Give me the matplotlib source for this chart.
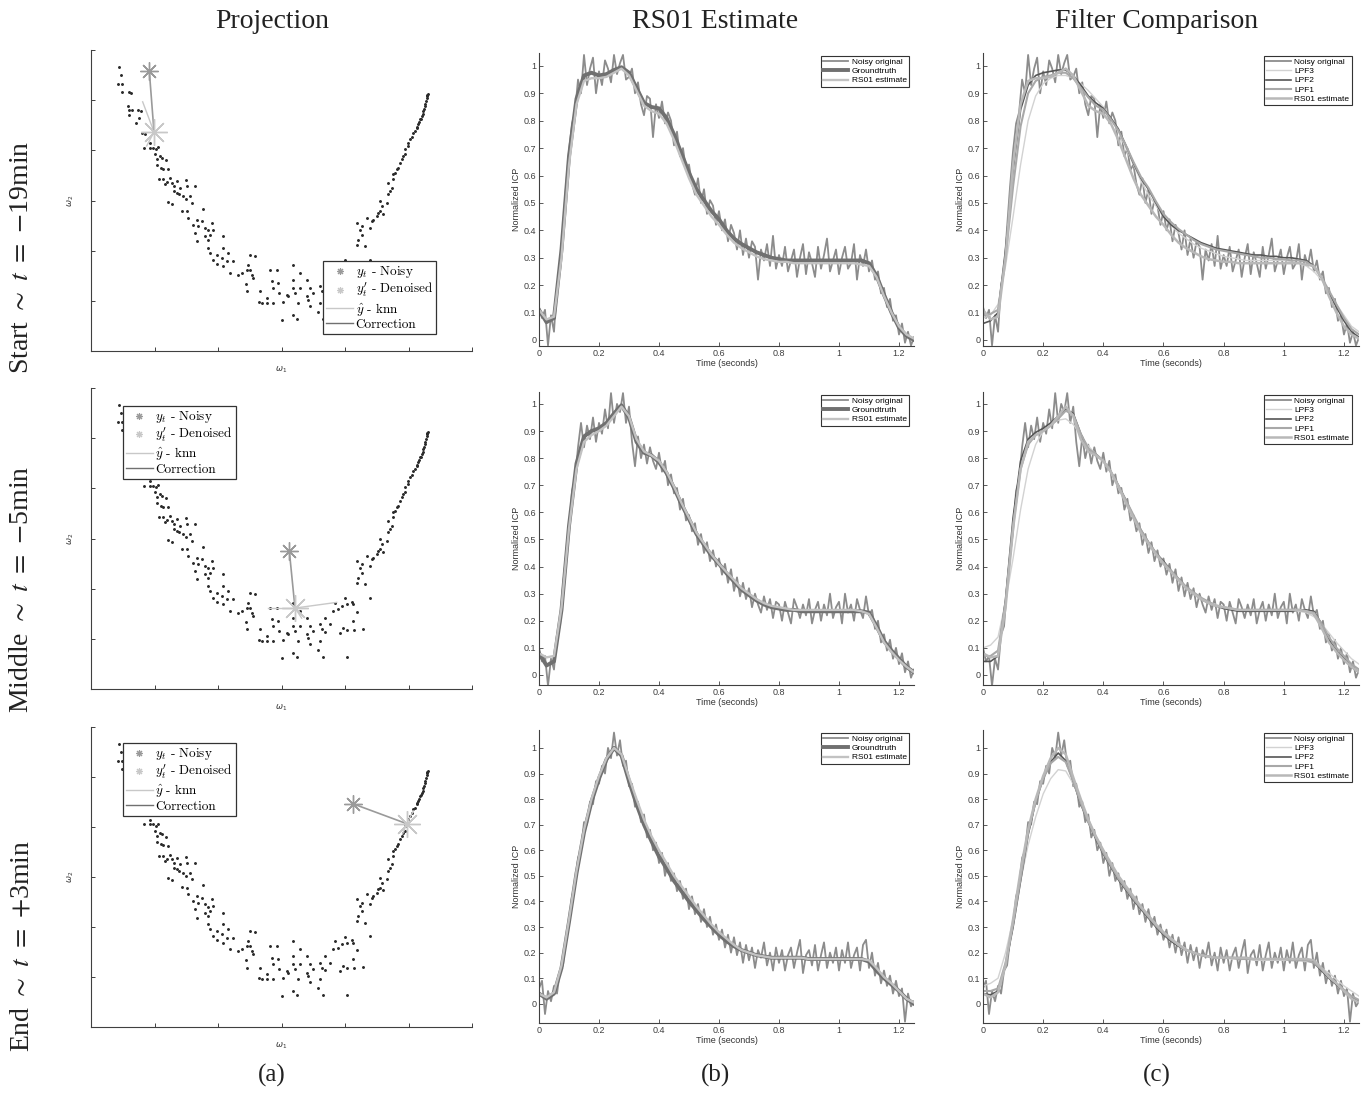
import numpy as np
import matplotlib
matplotlib.use('Agg')
import matplotlib.pyplot as plt
from matplotlib.lines import Line2D
from matplotlib.font_manager import FontProperties

plt.rcParams['font.family'] = ['Liberation Sans', 'DejaVu Sans']

# ---------------- data ----------------
col_titles = ['Projection', 'RS01 Estimate', 'Filter Comparison']
row_labels = [r'Start $\sim$ $t$ $=$ $-$19min', r'Middle $\sim$ $t$ $=$ $-$5min', r'End $\sim$ $t$ $=$ $+$3min']
panel_tags = ['(a)', '(b)', '(c)']

# projection point cloud (arbitrary omega units)
cloud_w1 = [118, 122, 113, 125, 127, 148, 152, 143, 147, 155, 148, 175, 183, 178, 167, 185, 195, 192, 210, 210,
            220, 228, 235, 225, 240, 230, 245, 258, 232, 242, 250, 265, 238, 250, 262, 270, 255, 275, 282, 300,
            290, 318, 320, 345, 283, 290, 298, 310, 318, 330, 265, 275, 305, 335, 368, 322, 325, 350, 365, 395,
            340, 355, 375, 385, 345, 400, 390, 375, 352, 385, 430, 385, 390, 410, 430, 445, 400, 425, 440, 460,
            410, 430, 450, 475, 485, 500, 510, 525, 505, 510, 515, 520, 498, 500, 540, 537, 560, 570, 590, 575,
            595, 580, 597, 545, 560, 580, 610, 620, 625, 640, 640, 660, 645, 605, 640, 660, 680, 690, 680, 690,
            640, 650, 655, 700, 720, 735, 720, 750, 765, 775, 795, 785, 800, 815, 820, 870, 760, 830, 835, 845,
            832, 840, 855, 845, 860, 870, 875, 880, 895, 900, 890, 910, 900, 905, 920, 925, 930, 935, 925, 940,
            945, 955, 960, 965, 975, 975, 985, 990, 1000, 1010, 1015, 1020, 1025, 1030, 1035, 1038, 1040, 985, 970, 950,
            940, 995, 1005, 1012, 1018, 1022, 1028, 1032, 1036, 1040, 1042, 1043, 725, 735, 780, 790, 800, 820, 822, 848,
            800, 730, 715, 685, 832]
cloud_w2 = [850, 826, 798, 798, 773, 773, 771, 733, 721, 721, 705, 721, 718, 698, 683, 651, 648, 608, 621, 608,
            608, 603, 610, 588, 583, 573, 578, 571, 555, 548, 545, 543, 513, 513, 505, 516, 498, 503, 493, 488,
            508, 511, 493, 493, 478, 473, 468, 463, 453, 463, 446, 440, 420, 443, 425, 418, 398, 393, 388, 383,
            378, 373, 368, 361, 353, 363, 348, 343, 328, 333, 343, 308, 293, 288, 308, 293, 273, 278, 268, 268,
            261, 253, 233, 228, 233, 243, 288, 285, 258, 243, 228, 218, 201, 178, 178, 148, 158, 243, 243, 208,
            203, 188, 173, 143, 143, 143, 148, 168, 163, 213, 188, 188, 173, 93, 258, 233, 213, 188, 163, 136,
            108, 95, 143, 173, 193, 213, 143, 193, 258, 238, 271, 248, 253, 261, 253, 273, 233, 318, 333, 348,
            383, 363, 313, 373, 398, 368, 388, 393, 413, 418, 403, 411, 448, 433, 443, 468, 478, 488, 503, 528,
            533, 548, 563, 573, 588, 603, 623, 633, 653, 668, 678, 693, 703, 718, 733, 748, 763, 613, 583, 543,
            513, 641, 658, 671, 685, 695, 708, 723, 738, 755, 765, 768, 178, 170, 168, 183, 176, 203, 176, 180,
            95, 95, 118, 153, 230]

noisy_pt = [(208, 836), (628, 412), (818, 670)]
denoised_pt = [(222, 655), (645, 242), (980, 610)]
knn_pts = [[(188, 745), (200, 613)],
           [(565, 242), (770, 259), (665, 212)],
           [(1000, 648), (968, 580)]]

# signals
t_noisy = np.round(np.arange(126) * 0.01, 2)
t_fine = np.arange(51) * 0.025

noisy = [
    [0.12, 0.08, 0.11, -0.02, 0.09, 0.03, 0.20, 0.25, 0.41, 0.56,
     0.69, 0.79, 0.83, 0.95, 0.90, 1.04, 0.93, 0.99, 1.03, 0.90,
     0.98, 0.93, 1.02, 0.99, 0.94, 1.04, 0.97, 1.01, 1.04, 0.95,
     0.96, 0.99, 0.90, 0.94, 0.86, 0.82, 0.89, 0.88, 0.74, 0.86,
     0.81, 0.87, 0.79, 0.83, 0.80, 0.71, 0.76, 0.67, 0.70, 0.62,
     0.64, 0.57, 0.53, 0.59, 0.50, 0.55, 0.46, 0.51, 0.49, 0.42,
     0.47, 0.40, 0.44, 0.36, 0.42, 0.39, 0.33, 0.40, 0.31, 0.37,
     0.30, 0.36, 0.34, 0.22, 0.33, 0.29, 0.35, 0.27, 0.38, 0.26,
     0.31, 0.27, 0.34, 0.25, 0.29, 0.33, 0.23, 0.30, 0.35, 0.24,
     0.32, 0.28, 0.23, 0.34, 0.26, 0.31, 0.37, 0.25, 0.29, 0.33,
     0.24, 0.30, 0.34, 0.26, 0.28, 0.35, 0.22, 0.31, 0.27, 0.33,
     0.25, 0.29, 0.22, 0.25, 0.17, 0.19, 0.12, 0.15, 0.07, 0.09,
     0.02, 0.06, -0.01, 0.03, -0.02, 0.01],
    [0.10, 0.05, 0.07, -0.04, 0.06, 0.02, 0.15, 0.18, 0.33, 0.44,
     0.53, 0.68, 0.72, 0.84, 0.93, 0.84, 0.92, 0.87, 0.95, 0.86,
     0.93, 0.89, 0.98, 0.91, 1.04, 0.93, 1.00, 0.97, 1.04, 0.93,
     0.99, 0.86, 0.77, 0.88, 0.80, 0.85, 0.78, 0.84, 0.79, 0.76,
     0.82, 0.75, 0.79, 0.70, 0.74, 0.67, 0.69, 0.61, 0.65, 0.57,
     0.59, 0.53, 0.56, 0.48, 0.52, 0.45, 0.49, 0.42, 0.46, 0.40,
     0.43, 0.37, 0.41, 0.34, 0.39, 0.31, 0.36, 0.29, 0.34, 0.28,
     0.32, 0.25, 0.30, 0.26, 0.23, 0.29, 0.24, 0.28, 0.21, 0.27,
     0.26, 0.20, 0.27, 0.23, 0.19, 0.28, 0.25, 0.21, 0.26, 0.22,
     0.28, 0.19, 0.24, 0.27, 0.20, 0.26, 0.22, 0.30, 0.21, 0.25,
     0.27, 0.19, 0.30, 0.23, 0.26, 0.20, 0.28, 0.24, 0.21, 0.29,
     0.22, 0.24, 0.17, 0.20, 0.12, 0.15, 0.09, 0.13, 0.06, 0.10,
     0.04, 0.08, 0.01, 0.05, -0.01, 0.02],
    [0.06, 0.09, -0.04, 0.05, 0.01, 0.07, 0.04, 0.13, 0.15, 0.25,
     0.31, 0.42, 0.46, 0.57, 0.60, 0.71, 0.70, 0.79, 0.78, 0.87,
     0.86, 0.93, 0.90, 1.00, 0.96, 1.06, 0.97, 1.03, 0.93, 0.95,
     0.85, 0.86, 0.77, 0.79, 0.71, 0.74, 0.65, 0.68, 0.60, 0.63,
     0.55, 0.59, 0.50, 0.55, 0.48, 0.51, 0.44, 0.48, 0.41, 0.45,
     0.37, 0.42, 0.35, 0.39, 0.32, 0.37, 0.30, 0.34, 0.27, 0.31,
     0.25, 0.29, 0.22, 0.27, 0.20, 0.26, 0.19, 0.24, 0.16, 0.23,
     0.17, 0.22, 0.14, 0.21, 0.18, 0.24, 0.15, 0.20, 0.13, 0.22,
     0.16, 0.21, 0.13, 0.19, 0.22, 0.14, 0.20, 0.25, 0.12, 0.19,
     0.21, 0.15, 0.23, 0.13, 0.19, 0.24, 0.14, 0.20, 0.16, 0.22,
     0.13, 0.21, 0.16, 0.24, 0.14, 0.19, 0.22, 0.13, 0.23, 0.25,
     0.14, 0.20, 0.11, 0.16, 0.08, 0.13, 0.07, 0.11, 0.04, 0.09,
     0.03, 0.06, -0.07, 0.04, -0.01, 0.01],
]

groundtruth = [
    [0.11, 0.065, 0.08, 0.33, 0.67, 0.88, 0.965, 0.975, 0.965, 0.97, 0.985, 0.995, 0.975, 0.92, 0.865, 0.85, 0.845,
     0.81, 0.75, 0.68, 0.61, 0.55, 0.51, 0.47, 0.44, 0.40, 0.37, 0.35, 0.335, 0.32, 0.31, 0.30, 0.295, 0.29, 0.29,
     0.29, 0.29, 0.29, 0.29, 0.29, 0.29, 0.29, 0.29, 0.29, 0.28, 0.235, 0.165, 0.10, 0.045, 0.015, 0.0],
    [0.08, 0.035, 0.05, 0.24, 0.55, 0.78, 0.88, 0.90, 0.91, 0.93, 0.965, 0.995, 0.95, 0.86, 0.82, 0.81, 0.785,
     0.745, 0.69, 0.63, 0.575, 0.52, 0.48, 0.44, 0.41, 0.375, 0.345, 0.315, 0.295, 0.275, 0.26, 0.25, 0.245, 0.24,
     0.24, 0.235, 0.235, 0.235, 0.235, 0.235, 0.235, 0.235, 0.235, 0.235, 0.23, 0.18, 0.125, 0.09, 0.06, 0.03, 0.01],
    [0.04, 0.02, 0.04, 0.14, 0.32, 0.51, 0.67, 0.79, 0.88, 0.955, 1.0, 0.97, 0.87, 0.78, 0.70, 0.635, 0.575, 0.53,
     0.48, 0.44, 0.40, 0.365, 0.33, 0.30, 0.27, 0.245, 0.225, 0.21, 0.2, 0.19, 0.185, 0.18, 0.18, 0.18, 0.18, 0.18,
     0.175, 0.175, 0.175, 0.175, 0.175, 0.175, 0.175, 0.175, 0.165, 0.13, 0.10, 0.075, 0.05, 0.02, 0.0],
]

rs01 = [
    [0.11, 0.075, 0.085, 0.30, 0.64, 0.86, 0.945, 0.955, 0.955, 0.96, 0.975, 0.99, 0.965, 0.91, 0.855, 0.835, 0.825,
     0.79, 0.73, 0.66, 0.59, 0.53, 0.49, 0.45, 0.42, 0.385, 0.355, 0.335, 0.32, 0.305, 0.295, 0.29, 0.285, 0.285,
     0.28, 0.28, 0.28, 0.28, 0.28, 0.28, 0.28, 0.28, 0.28, 0.275, 0.27, 0.23, 0.16, 0.10, 0.05, 0.02, 0.005],
    [0.08, 0.065, 0.07, 0.25, 0.54, 0.76, 0.86, 0.885, 0.90, 0.92, 0.955, 0.99, 0.955, 0.87, 0.825, 0.81, 0.79,
     0.75, 0.695, 0.635, 0.58, 0.525, 0.485, 0.445, 0.41, 0.38, 0.35, 0.32, 0.30, 0.28, 0.265, 0.255, 0.25, 0.245,
     0.24, 0.24, 0.24, 0.24, 0.24, 0.24, 0.24, 0.24, 0.24, 0.235, 0.225, 0.175, 0.12, 0.085, 0.055, 0.03, 0.01],
    [0.04, 0.025, 0.045, 0.15, 0.33, 0.52, 0.68, 0.80, 0.89, 0.96, 1.0, 0.975, 0.885, 0.80, 0.72, 0.655, 0.60, 0.55,
     0.50, 0.46, 0.42, 0.38, 0.345, 0.31, 0.28, 0.255, 0.23, 0.21, 0.2, 0.19, 0.185, 0.18, 0.18, 0.18, 0.18, 0.18,
     0.175, 0.175, 0.175, 0.175, 0.175, 0.175, 0.175, 0.175, 0.17, 0.14, 0.105, 0.08, 0.05, 0.02, 0.005],
]

lpf3 = [
    [0.08, 0.09, 0.13, 0.27, 0.45, 0.64, 0.80, 0.89, 0.935, 0.955, 0.965, 0.965, 0.955, 0.935, 0.91, 0.88, 0.85,
     0.81, 0.76, 0.70, 0.64, 0.58, 0.53, 0.49, 0.45, 0.42, 0.39, 0.37, 0.35, 0.335, 0.325, 0.315, 0.305, 0.30,
     0.295, 0.29, 0.29, 0.29, 0.29, 0.29, 0.29, 0.285, 0.28, 0.27, 0.25, 0.22, 0.18, 0.13, 0.09, 0.05, 0.03],
    [0.10, 0.11, 0.14, 0.27, 0.43, 0.61, 0.76, 0.85, 0.90, 0.925, 0.94, 0.945, 0.925, 0.885, 0.845, 0.815, 0.785,
     0.745, 0.69, 0.635, 0.58, 0.53, 0.485, 0.445, 0.41, 0.38, 0.35, 0.325, 0.305, 0.285, 0.27, 0.26, 0.25, 0.245,
     0.24, 0.24, 0.24, 0.24, 0.24, 0.24, 0.24, 0.24, 0.235, 0.23, 0.215, 0.19, 0.155, 0.12, 0.09, 0.06, 0.04],
    [0.07, 0.08, 0.10, 0.20, 0.33, 0.48, 0.62, 0.73, 0.82, 0.88, 0.915, 0.91, 0.86, 0.79, 0.72, 0.655, 0.60, 0.545,
     0.50, 0.455, 0.415, 0.38, 0.345, 0.31, 0.28, 0.255, 0.235, 0.215, 0.20, 0.19, 0.185, 0.18, 0.18, 0.175, 0.175,
     0.175, 0.17, 0.17, 0.17, 0.17, 0.17, 0.17, 0.17, 0.165, 0.16, 0.14, 0.12, 0.095, 0.07, 0.05, 0.03],
]
lpf2 = [
    [0.06, 0.07, 0.10, 0.33, 0.62, 0.84, 0.93, 0.965, 0.975, 0.98, 0.985, 0.985, 0.965, 0.93, 0.89, 0.865, 0.845,
     0.81, 0.77, 0.71, 0.645, 0.59, 0.55, 0.50, 0.45, 0.42, 0.40, 0.385, 0.37, 0.355, 0.345, 0.335, 0.33, 0.325,
     0.32, 0.315, 0.31, 0.31, 0.305, 0.305, 0.30, 0.30, 0.295, 0.29, 0.27, 0.23, 0.17, 0.12, 0.07, 0.03, 0.01],
    [0.05, 0.05, 0.07, 0.28, 0.58, 0.79, 0.87, 0.895, 0.91, 0.93, 0.955, 0.98, 0.965, 0.89, 0.83, 0.815, 0.79,
     0.75, 0.70, 0.645, 0.585, 0.535, 0.49, 0.45, 0.42, 0.385, 0.355, 0.325, 0.30, 0.28, 0.265, 0.255, 0.245, 0.24,
     0.235, 0.235, 0.235, 0.235, 0.235, 0.235, 0.235, 0.235, 0.24, 0.24, 0.235, 0.19, 0.13, 0.09, 0.06, 0.03, 0.01],
    [0.04, 0.035, 0.05, 0.15, 0.30, 0.48, 0.66, 0.79, 0.88, 0.945, 0.98, 0.95, 0.87, 0.78, 0.71, 0.645, 0.585,
     0.535, 0.485, 0.445, 0.405, 0.37, 0.335, 0.30, 0.27, 0.245, 0.225, 0.21, 0.20, 0.19, 0.185, 0.18, 0.18, 0.18,
     0.18, 0.18, 0.175, 0.175, 0.175, 0.175, 0.175, 0.175, 0.175, 0.175, 0.16, 0.13, 0.10, 0.075, 0.05, 0.025, 0.01],
]
lpf1 = [
    [0.09, 0.095, 0.11, 0.30, 0.56, 0.78, 0.90, 0.945, 0.96, 0.965, 0.975, 0.975, 0.955, 0.92, 0.885, 0.855, 0.84,
     0.805, 0.765, 0.71, 0.65, 0.595, 0.555, 0.505, 0.46, 0.43, 0.405, 0.385, 0.365, 0.35, 0.34, 0.33, 0.325, 0.32,
     0.315, 0.31, 0.305, 0.30, 0.30, 0.295, 0.295, 0.29, 0.29, 0.285, 0.265, 0.23, 0.18, 0.13, 0.08, 0.04, 0.02],
    [0.07, 0.07, 0.09, 0.27, 0.55, 0.76, 0.85, 0.885, 0.90, 0.92, 0.945, 0.975, 0.96, 0.89, 0.835, 0.815, 0.79,
     0.75, 0.70, 0.645, 0.59, 0.535, 0.49, 0.45, 0.415, 0.385, 0.355, 0.325, 0.305, 0.285, 0.27, 0.255, 0.25, 0.245,
     0.24, 0.24, 0.24, 0.24, 0.24, 0.24, 0.24, 0.24, 0.24, 0.235, 0.23, 0.19, 0.14, 0.10, 0.07, 0.04, 0.02],
    [0.05, 0.05, 0.06, 0.16, 0.31, 0.49, 0.67, 0.79, 0.88, 0.94, 0.965, 0.945, 0.87, 0.785, 0.71, 0.65, 0.59, 0.54,
     0.49, 0.45, 0.41, 0.375, 0.34, 0.305, 0.275, 0.25, 0.23, 0.21, 0.20, 0.19, 0.185, 0.18, 0.18, 0.18, 0.175,
     0.175, 0.175, 0.175, 0.175, 0.175, 0.175, 0.17, 0.17, 0.17, 0.16, 0.135, 0.105, 0.08, 0.055, 0.03, 0.015],
]

y_limits = [(-0.022, 1.047), (-0.037, 1.044), (-0.075, 1.07)]

# ---------------- layout ----------------
W, H = 1366, 1094
fig = plt.figure(figsize=(W / 100, H / 100), dpi=100)


def rect(left, top, right, bottom):
    return [left / W, 1 - bottom / H, (right - left) / W, (bottom - top) / H]


proj_rows = [(50, 351), (388, 689), (727, 1027)]
sig_rows = [(53, 346), (392, 685), (730, 1023)]
proj_legend_pos = [('lower right', (0.906, 0.056)), ('upper left', (0.084, 0.94)), ('upper left', (0.084, 0.947))]

c_noisy = '#8c8c8c'
c_gt = '#707070'
c_rs = '#c2c2c2'
c_axis = '#404040'

leg_font = FontProperties(family='cmr10', size=9.5, math_fontfamily='cm')


def style_spines(ax):
    for s in ['top', 'right']:
        ax.spines[s].set_visible(False)
    for s in ['left', 'bottom']:
        ax.spines[s].set_color(c_axis)
        ax.spines[s].set_linewidth(0.8)


for r in range(3):
    # ---- projection ----
    top, bot = proj_rows[r]
    ax = fig.add_axes(rect(91, top, 472, bot))
    ax.plot(cloud_w1, cloud_w2, ls='none', marker='.', ms=2.2, color='#2a2a2a')
    nx, ny = noisy_pt[r]
    dx, dy = denoised_pt[r]
    for kx, ky in knn_pts[r]:
        ax.plot([dx, kx], [dy, ky], color='#c8c8c8', lw=1.0)
    ax.plot([nx, dx], [ny, dy], color='#9a9a9a', lw=1.2)
    ax.plot([nx], [ny], ls='none', marker=(8, 2, 0), ms=13, mew=1.0, color='#9a9a9a')
    ax.plot([dx], [dy], ls='none', marker=(8, 2, 0), ms=19, mew=1.0, color='#c8c8c8')
    ax.set_xlim(33, 1176)
    ax.set_ylim(0, 900)
    ax.set_xticks(np.linspace(33, 1176, 7)[1:])
    ax.set_yticks(np.arange(150, 901, 150))
    ax.set_xticklabels([])
    ax.set_yticklabels([])
    ax.tick_params(direction='in', length=3, width=0.7, colors=c_axis)
    style_spines(ax)
    ax.set_xlabel(r'$\omega_1$', fontsize=6, labelpad=6, color='#333333')
    ax.set_ylabel(r'$\omega_2$', fontsize=6, labelpad=7, color='#333333')
    handles = [Line2D([], [], ls='none', marker=(8, 2, 0), ms=5, mew=0.8, color='#9a9a9a'),
               Line2D([], [], ls='none', marker=(8, 2, 0), ms=5, mew=0.8, color='#c8c8c8'),
               Line2D([], [], color='#c8c8c8', lw=1.0),
               Line2D([], [], color='#707070', lw=1.0)]
    labels = [r"$y_t$ - Noisy", r"$y_t^{\prime}$ - Denoised", r"$\hat{y}$ - knn", "Correction"]
    loc, anchor = proj_legend_pos[r]
    leg = ax.legend(handles, labels, loc=loc, bbox_to_anchor=anchor, borderaxespad=0, prop=leg_font,
                    fancybox=False, framealpha=1, edgecolor='#333333', handlelength=2.0,
                    handletextpad=0.2, labelspacing=0.08, borderpad=0.25)
    leg.get_frame().set_linewidth(0.9)

    # ---- RS01 estimate and filter comparison ----
    top, bot = sig_rows[r]
    for c, (left, right) in enumerate([(539, 914), (983, 1359)]):
        ax = fig.add_axes(rect(left, top, right, bot))
        ax.plot(t_noisy, noisy[r], color=c_noisy, lw=1.3, label='Noisy original')
        if c == 0:
            ax.plot(t_fine, groundtruth[r], color=c_gt, lw=2.8, label='Groundtruth')
            ax.plot(t_fine, rs01[r], color=c_rs, lw=1.7, label='RS01 estimate')
            anchor = (0.987, 0.99)
        else:
            ax.plot(t_fine, lpf3[r], color='#d2d2d2', lw=1.0, label='LPF3')
            ax.plot(t_fine, lpf2[r], color='#555555', lw=1.2, label='LPF2')
            ax.plot(t_fine, lpf1[r], color='#a8a8a8', lw=1.5, label='LPF1')
            ax.plot(t_fine, rs01[r], color='#b8b8b8', lw=1.8, label='RS01 estimate')
            anchor = (0.981, 0.99)
        ax.set_xlim(0, 1.25)
        ax.set_ylim(*y_limits[r])
        ax.set_xticks([0, 0.2, 0.4, 0.6, 0.8, 1.0, 1.2])
        ax.set_xticklabels(['0', '0.2', '0.4', '0.6', '0.8', '1', '1.2'])
        yt = [round(0.1 * i, 1) for i in range(11)]
        ax.set_yticks(yt)
        ax.set_yticklabels(['0'] + ['%.1f' % v for v in yt[1:-1]] + ['1'])
        ax.tick_params(direction='in', length=3, width=0.6, labelsize=6.5, colors=c_axis, pad=2)
        style_spines(ax)
        ax.set_xlabel('Time (seconds)', fontsize=6.5, labelpad=1, color='#333333')
        ax.set_ylabel('Normalized ICP', fontsize=6.5, labelpad=2, color='#333333')
        leg = ax.legend(loc='upper right', bbox_to_anchor=anchor, borderaxespad=0, fontsize=6,
                        fancybox=False, framealpha=1, edgecolor='#333333', handlelength=3.0,
                        handletextpad=0.4, labelspacing=0.15, borderpad=0.3)
        leg.get_frame().set_linewidth(0.8)

# ---------------- titles and labels ----------------
for x, s in zip([272, 715, 1157], col_titles):
    fig.text(x / W, 1 - 22 / H, s, ha='center', va='center', fontsize=20,
             family='Liberation Serif', color='#222222')
for x, s in zip([272, 715, 1157], panel_tags):
    fig.text(x / W, 1 - 1075 / H, s, ha='center', va='center', fontsize=18,
             family='Liberation Serif', color='#222222')
for y, s in zip([257, 589, 946], row_labels):
    fig.text(22 / W, 1 - y / H, s, ha='center', va='center', rotation=90, fontsize=20,
             family='Liberation Serif', math_fontfamily='stix', color='#222222')

fig.savefig('out.png', dpi=100, facecolor='white')
